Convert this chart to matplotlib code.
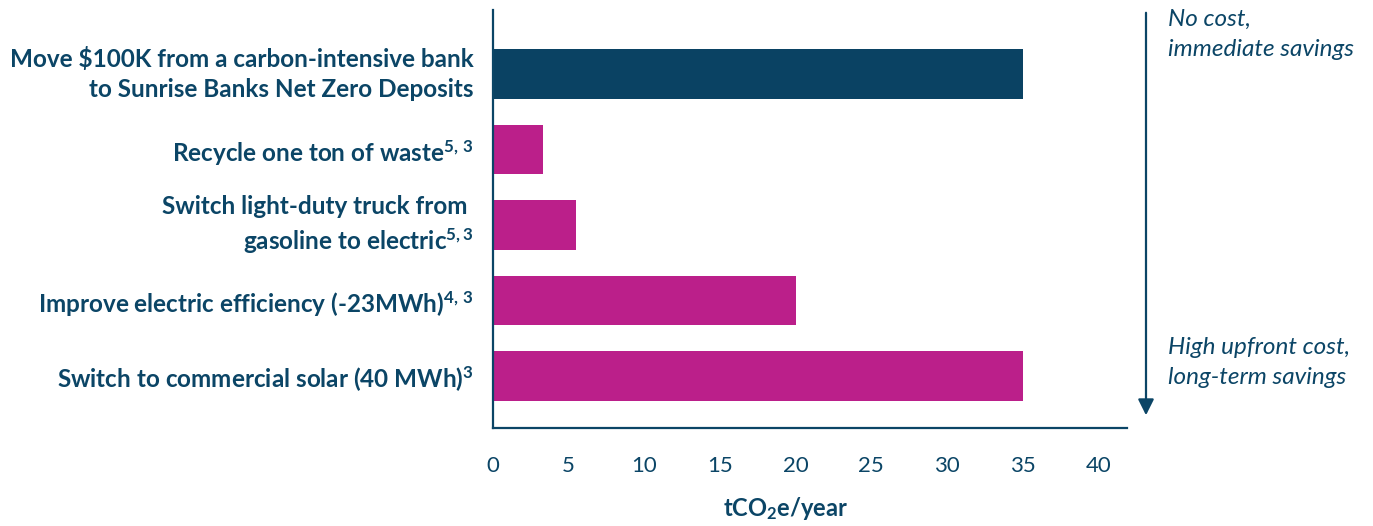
"""Horizontal bar chart of tCO2e/year savings per action."""

import matplotlib

matplotlib.use("Agg")
import matplotlib.pyplot as plt
from matplotlib.patches import FancyArrowPatch

NAVY = "#0a4263"
MAGENTA = "#bb1f8a"
TEXT = "#0b4566"

actions = [
    "Move $100K from a carbon-intensive bank\nto Sunrise Banks Net Zero Deposits",
    r"Recycle one ton of waste$^{\mathbf{5,\,3}}$",
    "Switch light-duty truck from \n" + r"gasoline to electric$^{\mathbf{5,3}}$",
    r"Improve electric efficiency (-23MWh)$^{\mathbf{4,\,3}}$",
    r"Switch to commercial solar (40 MWh)$^{\mathbf{3}}$",
]
savings = [35.0, 3.3, 5.5, 20.0, 35.0]
highlight = [True, False, False, False, False]
xticks = [0, 5, 10, 15, 20, 25, 30, 35, 40]

plt.rcParams.update(
    {
        "font.family": ["Lato", "DejaVu Sans"],
        "mathtext.fontset": "custom",
        "mathtext.rm": "Lato",
        "mathtext.bf": "Lato:bold",
        "mathtext.it": "Lato:italic",
    }
)

W, H, DPI = 1373, 526, 100
fig = plt.figure(figsize=(W / DPI, H / DPI), dpi=DPI)
ax = fig.add_axes([493 / W, 1 - 428 / H, (1127 - 493) / W, (428 - 10) / H])

y = list(range(len(actions)))
colors = [NAVY if h else MAGENTA for h in highlight]
ax.barh(y, savings, height=0.66, color=colors)

ax.set_xlim(0, 41.9)
ax.set_ylim(4.69, -0.85)
ax.set_yticks(y)
ax.set_yticklabels(actions, fontsize=17.5, fontweight="bold", color=TEXT, linespacing=1.35)
for lbl in ax.get_yticklabels():
    if "\n" in lbl.get_text():
        lbl.set_verticalalignment("center")
ax.set_xticks(xticks)
ax.set_xticklabels([str(t) for t in xticks], fontsize=16, color=TEXT)
ax.tick_params(axis="both", length=0)
ax.tick_params(axis="y", pad=14)
ax.tick_params(axis="x", pad=20)

for side in ("top", "right"):
    ax.spines[side].set_visible(False)
for side in ("left", "bottom"):
    ax.spines[side].set_color(TEXT)
    ax.spines[side].set_linewidth(1.6)

ax.set_xlabel(r"tCO$_{\mathbf{2}}$e/year", fontsize=17, fontweight="bold", color=TEXT)
ax.xaxis.set_label_coords((786 - 493) / (1127 - 493), -0.16)

arrow = FancyArrowPatch(
    (1146 / W, 1 - 10 / H),
    (1146 / W, 1 - 418 / H),
    transform=fig.transFigure,
    arrowstyle="-|>",
    mutation_scale=24,
    color=TEXT,
    linewidth=1.6,
)
fig.add_artist(arrow)

fig.text(1168 / W, 1 - 9 / H, "No cost,\nimmediate savings", fontsize=17.5, style="italic",
         color=TEXT, va="top", ha="left", linespacing=1.55)
fig.text(1168 / W, 1 - 337 / H, "High upfront cost,\nlong-term savings", fontsize=17.5, style="italic",
         color=TEXT, va="top", ha="left", linespacing=1.55)

fig.savefig("out.png", dpi=DPI)
